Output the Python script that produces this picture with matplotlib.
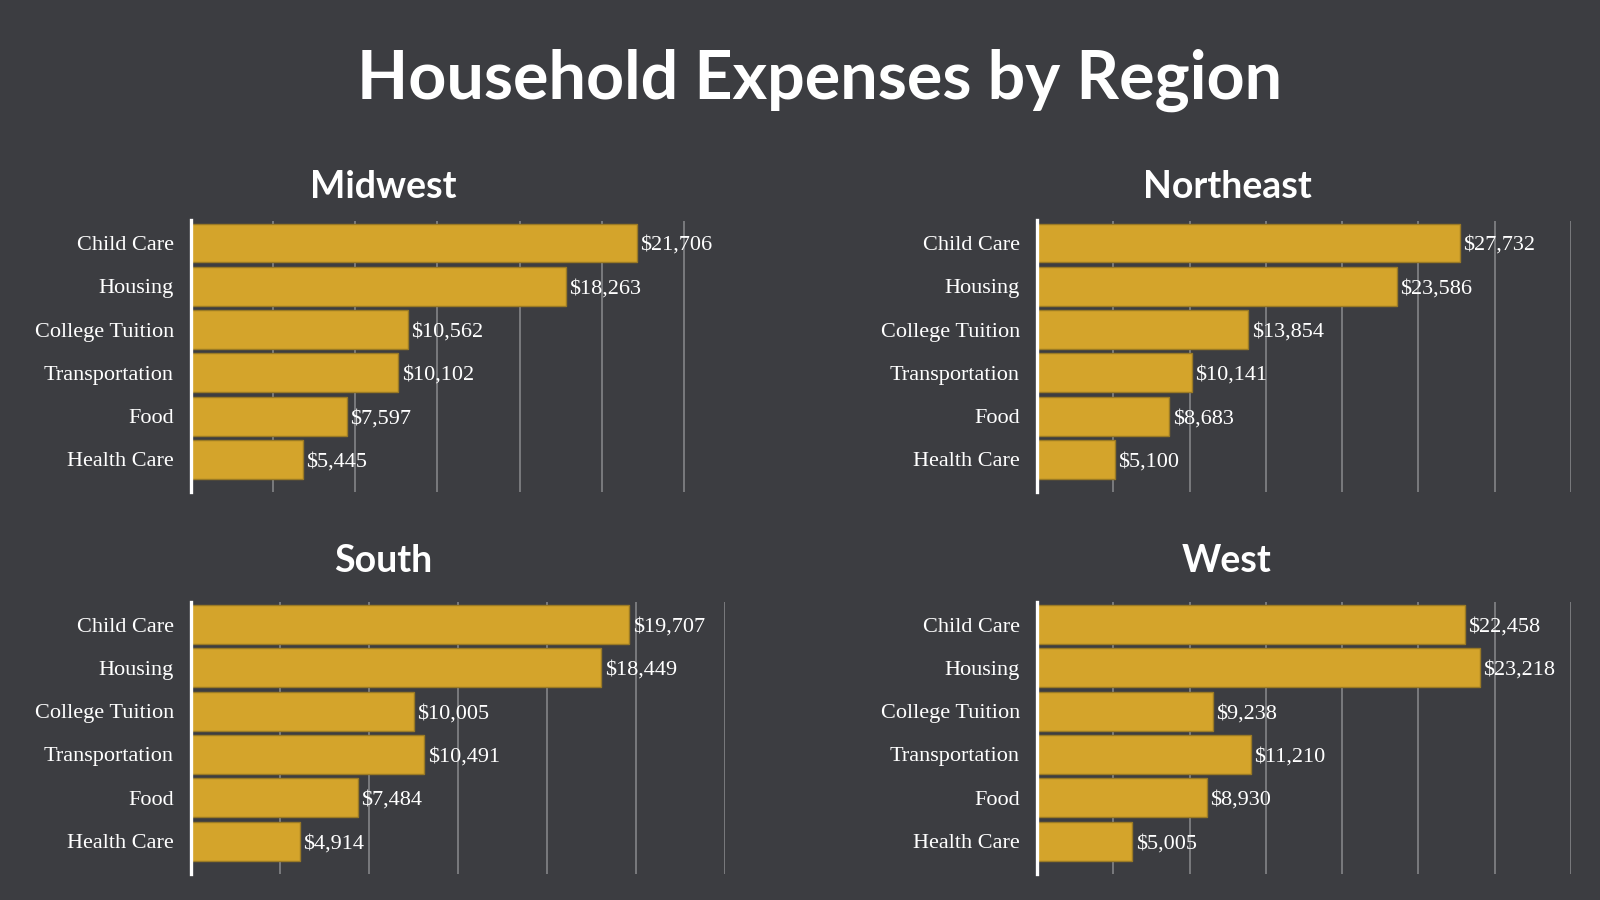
import matplotlib
matplotlib.use("Agg")
import matplotlib.pyplot as plt

categories = ["Child Care", "Housing", "College Tuition", "Transportation", "Food", "Health Care"]
regions = ["Midwest", "Northeast", "South", "West"]
midwest = [21706, 18263, 10562, 10102, 7597, 5445]
northeast = [27732, 23586, 13854, 10141, 8683, 5100]
south = [19707, 18449, 10005, 10491, 7484, 4914]
west = [22458, 23218, 9238, 11210, 8930, 5005]
values = [midwest, northeast, south, west]

xlims = [26000, 35000, 24000, 28000]
tick_steps = [4000, 5000, 4000, 4000]
tick_ends = [24000, 35000, 24000, 28000]

BG = "#3c3d41"
BAR = "#d4a42b"
EDGE = "#9a7a25"
GRID = "#7e7f82"

fig = plt.figure(figsize=(16, 9), dpi=100, facecolor=BG)

fig.text(0.512, 1 - 80 / 900, "Household Expenses by Region", ha="center", va="center",
         color="white", fontsize=47.8, fontweight="bold", family="Lato")

positions = [
    (191 / 1600, 0.4536, 534 / 1600, 0.3014),
    (1037 / 1600, 0.4536, 534 / 1600, 0.3014),
    (191 / 1600, 0.0294, 534 / 1600, 0.3016),
    (1037 / 1600, 0.0294, 534 / 1600, 0.3016),
]
title_pos = [(383, 187), (1227, 187), (383, 561), (1227, 561)]

for i, (name, vals) in enumerate(zip(regions, values)):
    ax = fig.add_axes(positions[i])
    ax.set_facecolor("none")
    y = list(range(len(categories)))
    ax.barh(y, vals, height=0.9, color=BAR, edgecolor=EDGE, linewidth=1, zorder=3)
    for yi, v in zip(y, vals):
        ax.text(v + xlims[i] * 0.006, yi, f"${v:,}", va="center_baseline", ha="left", color="white",
                fontsize=16, family="Liberation Serif", zorder=4, clip_on=False)
    ax.set_yticks(y)
    ax.set_yticklabels(categories, family="Liberation Serif", fontsize=16, color="white",
                       va="center_baseline")
    ax.set_ylim(5.75, -0.52)
    ax.set_xlim(0, xlims[i])
    ax.set_xticks(list(range(tick_steps[i], tick_ends[i] + 1, tick_steps[i])))
    ax.set_xticklabels([])
    ax.tick_params(axis="both", length=0)
    ax.tick_params(axis="y", pad=12.3)
    ax.grid(axis="x", color=GRID, linewidth=1.3, zorder=0)
    for s in ["top", "right", "bottom"]:
        ax.spines[s].set_visible(False)
    ax.spines["left"].set_color("white")
    ax.spines["left"].set_linewidth(2.4)
    ax.spines["left"].set_zorder(5)
    tx, ty = title_pos[i]
    fig.text(tx / 1600, 1 - ty / 900, name, ha="center", va="center", color="white",
             fontsize=27, fontweight="bold", family="Lato")

fig.savefig("out.png", dpi=100, facecolor=BG)
